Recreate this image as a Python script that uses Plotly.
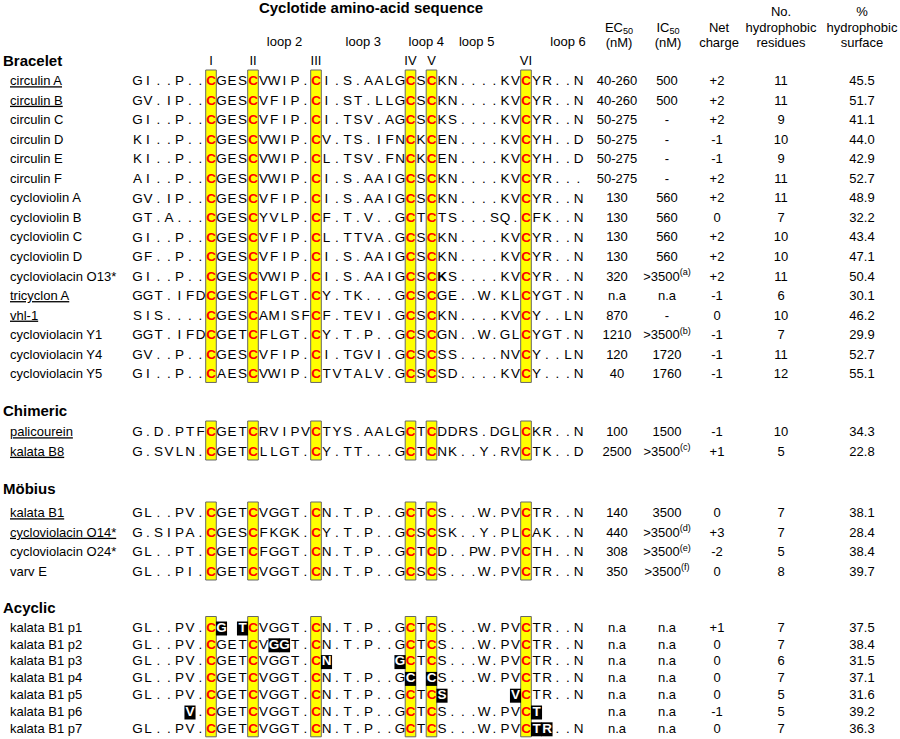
import plotly.graph_objects as go

FONT = "Arial, 'Liberation Sans', sans-serif"

# ---------------- data ----------------
group_names = ["Bracelet", "Chimeric", "Möbius", "Acyclic"]
group_sizes = [16, 2, 4, 7]

names = [
    "circulin A", "circulin B", "circulin C", "circulin D", "circulin E", "circulin F",
    "cycloviolin A", "cycloviolin B", "cycloviolin C", "cycloviolin D",
    "cycloviolacin O13*", "tricyclon A", "vhl-1", "cycloviolacin Y1",
    "cycloviolacin Y4", "cycloviolacin Y5",
    "palicourein", "kalata B8",
    "kalata B1", "cycloviolacin O14*", "cycloviolacin O24*", "varv E",
    "kalata B1 p1", "kalata B1 p2", "kalata B1 p3", "kalata B1 p4",
    "kalata B1 p5", "kalata B1 p6", "kalata B1 p7",
]

underlined = ["circulin A", "circulin B", "tricyclon A", "vhl-1", "palicourein",
              "kalata B8", "kalata B1", "cycloviolacin O14*"]

sequences = [
    "GI..P..CGESCVWIP.CI.S.AALGCSCKN....KVCYR..N",
    "GV.IP..CGESCVFIP.CI.ST.LLGCSCKN....KVCYR..N",
    "GI..P..CGESCVFIP.CI.TSV.AGCSCKS....KVCYR..N",
    "KI..P..CGESCVWIP.CV.TS.IFNCKCEN....KVCYH..D",
    "KI..P..CGESCVWIP.CL.TSV.FNCKCEN....KVCYH..D",
    "AI..P..CGESCVWIP.CI.S.AAIGCSCKN....KVCYR...",
    "GV.IP..CGESCVFIP.CI.S.AAIGCSCKN....KVCYR..N",
    "GT.A...CGESCYVLP.CF.T.V..GCTCTS...SQ.CFK..N",
    "GI..P..CGESCVFIP.CL.TTVA.GCSCKN....KVCYR..N",
    "GF..P..CGESCVFIP.CI.S.AAIGCSCKN....KVCYR..N",
    "GI..P..CGESCVWIP.CI.S.AAIGCSCKS....KVCYR..N",
    "GGT.IFDCGESCFLGT.CY.TK...GCSCGE..W.KLCYGT.N",
    "SIS....CGESCAMISFCF.TEVI.GCSCKN....KVCY..LN",
    "GGT.IFDCGETCFLGT.CY.T.P..GCSCGN..W.GLCYGT.N",
    "GV..P..CGESCVFIP.CI.TGVI.GCSCSS....NVCY..LN",
    "GI..P..CAESCVWIP.CTVTALV.GCSCSD....KVCY...N",
    "G.D.PTFCGETCRVIPVCTYS.AALGCTCDDRS.DGLCKR..N",
    "G.SVLN.CGETCLLGT.CY.TT...GCTCNK..Y.RVCTK..D",
    "GL..PV.CGETCVGGT.CN.T.P..GCTCS...W.PVCTR..N",
    "G.SIPA.CGESCFKGK.CY.T.P..GCSCSK..Y.PLCAK..N",
    "GL..PT.CGETCFGGT.CN.T.P..GCTCD..PW.PVCTH..N",
    "GL..PI.CGETCVGGT.CN.T.P..GCSCS...W.PVCTR..N",
    "GL..PV.CG TCVGGT.CN.T.P..GCTCS...W.PVCTR..N",
    "GL..PV.CGETCVGGT.CN.T.P..GCTCS...W.PVCTR..N",
    "GL..PV.CGETCVGGT.CN      GCTCS...W.PVCTR..N",
    "GL..PV.CGETCVGGT.CN.T.P..GC CS...W.PVCTR..N",
    "GL..PV.CGETCVGGT.CN.T.P..GCTCS      VCTR..N",
    "     V.CGETCVGGT.CN.T.P..GCTCS...W.PVCT    ",
    "GL..PV.CGETCVGGT.CN.T.P..GCTCS...W.PVCTR..N",
]

# 1-based alignment columns shown white on black
highlight_positions = {
    "kalata B1 p1": [9, 11],
    "kalata B1 p2": [14, 15],
    "kalata B1 p3": [19, 26],
    "kalata B1 p4": [27, 29],
    "kalata B1 p5": [30, 37],
    "kalata B1 p6": [6, 39],
    "kalata B1 p7": [39, 40],
}
bold_positions = {"cycloviolacin O13*": [30]}

cys_positions = [8, 12, 18, 27, 29, 38]
cys_labels = ["I", "II", "III", "IV", "V", "VI"]
loop_labels = ["loop 2", "loop 3", "loop 4", "loop 5", "loop 6"]
loop_centres = [15, 22.5, 28.5, 33.3, 42]

ec50 = ["40-260", "40-260", "50-275", "50-275", "50-275", "50-275",
        "130", "130", "130", "130", "320", "n.a", "870", "1210", "120", "40",
        "100", "2500",
        "140", "440", "308", "350",
        "n.a", "n.a", "n.a", "n.a", "n.a", "n.a", "n.a"]
ic50 = ["500", "500", "-", "-", "-", "-",
        "560", "560", "560", "560", ">3500<sup>(a)</sup>", "n.a", "-",
        ">3500<sup>(b)</sup>", "1720", "1760",
        "1500", ">3500<sup>(c)</sup>",
        "3500", ">3500<sup>(d)</sup>", ">3500<sup>(e)</sup>", ">3500<sup>(f)</sup>",
        "n.a", "n.a", "n.a", "n.a", "n.a", "n.a", "n.a"]
net_charge = ["+2", "+2", "+2", "-1", "-1", "+2", "+2", "0", "+2", "+2", "+2",
              "-1", "0", "-1", "-1", "-1",
              "-1", "+1",
              "0", "+3", "-2", "0",
              "+1", "0", "0", "0", "0", "-1", "0"]
hydrophobic_residues = [11, 11, 9, 10, 9, 11, 11, 7, 10, 10, 11, 6, 10, 7, 11, 12,
                        10, 5,
                        7, 7, 5, 8,
                        7, 7, 6, 7, 5, 5, 7]
hydrophobic_surface = ["45.5", "51.7", "41.1", "44.0", "42.9", "52.7", "48.9", "32.2",
                       "43.4", "47.1", "50.4", "30.1", "46.2", "29.9", "52.7", "55.1",
                       "34.3", "22.8",
                       "38.1", "28.4", "38.4", "39.7",
                       "37.5", "38.4", "31.5", "37.1", "31.6", "39.2", "36.3"]

title = "Cyclotide amino-acid sequence"
column_headers = [
    ["", "EC<sub>50</sub>", "(nM)"],
    ["", "IC<sub>50</sub>", "(nM)"],
    ["", "Net", "charge"],
    ["No.", "hydrophobic", "residues"],
    ["%", "hydrophobic", "surface"],
]

# ---------------- layout constants ----------------
W, H = 900, 739
SEQ_X0 = 137.5
CHAR_W = 10.5
NAME_X = 10
GROUP_X = 3
VALUE_X = [617, 667, 717, 781, 862]
HEADER_X = [619, 668, 719, 781, 862]
HEADER_LINE_Y = [13, 28.5, 43.5]
group_header_y = [62, 412, 490, 609]
group_first_row_y = [82, 433, 514, 628.5]
group_row_step = [19.53, 19.5, 19.5, 16.8]


def col_x(pos):
    return SEQ_X0 + (pos - 1) * CHAR_W


fig = go.Figure()
shapes = []


def add_text(xs, ys, texts, size=13, color="black", pos="middle center"):
    fig.add_trace(go.Scatter(
        x=xs, y=ys, text=texts, mode="text", textposition=pos,
        textfont=dict(family=FONT, size=size, color=color),
        hoverinfo="skip", showlegend=False, cliponaxis=False))


# title and headers
add_text([371], [9.5], [f"<b>{title}</b>"], size=15)
hx, hy, ht = [], [], []
for x, lines in zip(HEADER_X, column_headers):
    for y, t in zip(HEADER_LINE_Y, lines):
        if t:
            hx.append(x); hy.append(y); ht.append(t)
add_text(hx, hy, ht)
add_text([col_x(c) for c in loop_centres], [43] * len(loop_labels), loop_labels)
add_text([col_x(c) for c in cys_positions], [62] * len(cys_labels), cys_labels)

# rows
gx, gy, gt = [], [], []
nx, ny, nt = [], [], []
sx, sy, st = [], [], []
rx, ry, rt = [], [], []
bx, by, bt = [], [], []
wx, wy, wt = [], [], []
vx, vy, vt = [], [], []

r = 0
for g, gname in enumerate(group_names):
    gx.append(GROUP_X); gy.append(group_header_y[g]); gt.append(f"<b>{gname}</b>")
    ys = []
    for k in range(group_sizes[g]):
        y = group_first_row_y[g] + k * group_row_step[g]
        ys.append(y)
        name = names[r]
        nx.append(NAME_X); ny.append(y)
        nt.append(f"<u>{name}</u>" if name in underlined else name)
        hl = highlight_positions.get(name, [])
        bl = bold_positions.get(name, [])
        for i, ch in enumerate(sequences[r], start=1):
            if ch == " ":
                continue
            x = col_x(i)
            if i in hl:
                wx.append(x); wy.append(y); wt.append(f"<b>{ch}</b>")
            elif i in cys_positions and ch == "C":
                rx.append(x); ry.append(y); rt.append(f"<b>{ch}</b>")
            elif i in bl:
                bx.append(x); by.append(y); bt.append(f"<b>{ch}</b>")
            else:
                sx.append(x); sy.append(y); st.append(ch)
        for i in hl:
            shapes.append(dict(type="rect", xref="x", yref="y", layer="below",
                               x0=col_x(i) - CHAR_W / 2 - 0.3, x1=col_x(i) + CHAR_W / 2 + 0.3,
                               y0=y - 7, y1=y + 7, fillcolor="black", line=dict(width=0)))
        vals = [ec50[r], ic50[r], net_charge[r], str(hydrophobic_residues[r]), hydrophobic_surface[r]]
        for x, v in zip(VALUE_X, vals):
            vx.append(x); vy.append(y); vt.append(v)
        r += 1
    top, bottom = ys[0] - 12, ys[-1] + 7.5
    for c in cys_positions:
        shapes.insert(0, dict(type="rect", xref="x", yref="y", layer="below",
                              x0=col_x(c) - 5.3, x1=col_x(c) + 5.3, y0=top, y1=bottom,
                              fillcolor="#FFFF00", line=dict(color="#666666", width=1)))

add_text(gx, gy, gt, size=15, pos="middle right")
add_text(nx, ny, nt, size=13, pos="middle right")
add_text(sx, sy, st, size=13.5)
add_text(rx, ry, rt, size=13.5, color="#FF0000")
add_text(bx, by, bt, size=13.5)
add_text(wx, wy, wt, size=13.5, color="white")
add_text(vx, vy, vt, size=13)

fig.update_layout(
    width=W, height=H, margin=dict(l=0, r=0, t=0, b=0),
    paper_bgcolor="white", plot_bgcolor="white",
    xaxis=dict(range=[0, W], visible=False, fixedrange=True),
    yaxis=dict(range=[H, 0], visible=False, fixedrange=True),
    shapes=shapes,
)
fig.write_html("out.html", config={"displayModeBar": False},
               post_script="document.body.style.margin='0px';")
